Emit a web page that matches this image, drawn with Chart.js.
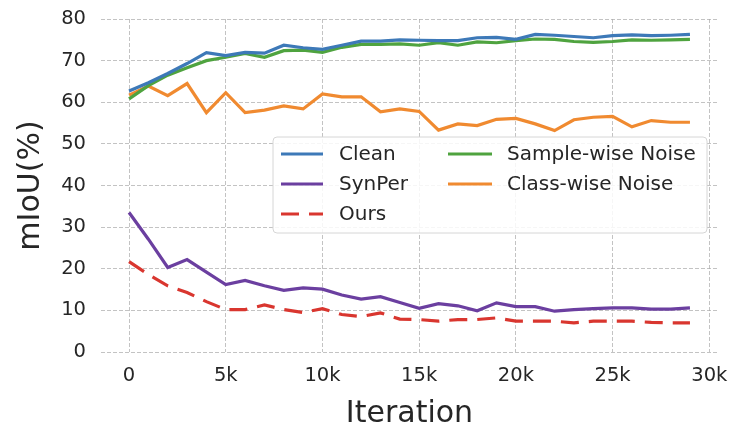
<!DOCTYPE html>
<html>
<head>
<meta charset="utf-8">
<script src="https://cdn.jsdelivr.net/npm/chart.js@4.4.1/dist/chart.umd.min.js"></script>
<style>
  html, body { margin: 0; padding: 0; background: #fff; }
  #wrap { width: 733px; height: 429px; }
</style>
</head>
<body>
<div id="wrap"><canvas id="miouChart"></canvas></div>
<script>
// iterations (x values)
const iterations = [0, 1000, 2000, 3000, 4000, 5000, 6000, 7000, 8000, 9000,
  10000, 11000, 12000, 13000, 14000, 15000, 16000, 17000, 18000, 19000,
  20000, 21000, 22000, 23000, 24000, 25000, 26000, 27000, 28000, 29000];

// mIoU values
const clean = [62.7, 64.7, 66.9, 69.3, 71.9, 71.2, 72.0, 71.8, 73.7, 73.1,
  72.7, 73.7, 74.7, 74.7, 75.0, 74.9, 74.8, 74.8, 75.5, 75.6,
  75.1, 76.3, 76.1, 75.8, 75.5, 76.0, 76.2, 76.0, 76.1, 76.3];
const synPer = [33.5, 27.1, 20.3, 22.2, 19.2, 16.2, 17.2, 15.9, 14.8, 15.4,
  15.1, 13.7, 12.7, 13.3, 11.9, 10.5, 11.6, 11.1, 9.9, 11.8,
  10.9, 10.9, 9.8, 10.2, 10.4, 10.6, 10.6, 10.3, 10.3, 10.6];
const ours = [21.7, 18.6, 15.9, 14.3, 12.1, 10.2, 10.2, 11.3, 10.2, 9.5,
  10.4, 9.0, 8.5, 9.4, 7.9, 7.8, 7.4, 7.8, 7.8, 8.2,
  7.4, 7.4, 7.4, 7.0, 7.4, 7.4, 7.4, 7.1, 7.0, 7.0];
const sampleWise = [60.8, 64.0, 66.5, 68.3, 70.0, 70.8, 71.7, 70.8, 72.4, 72.5,
  72.0, 73.2, 73.9, 73.9, 74.0, 73.7, 74.3, 73.7, 74.5, 74.3,
  74.8, 75.2, 75.1, 74.6, 74.4, 74.6, 75.0, 74.9, 75.0, 75.1];
const classWise = [61.7, 63.9, 61.6, 64.5, 57.5, 62.3, 57.5, 58.1, 59.1, 58.4,
  62.0, 61.3, 61.3, 57.7, 58.4, 57.8, 53.3, 54.8, 54.4, 55.9,
  56.1, 54.8, 53.2, 55.8, 56.4, 56.6, 54.1, 55.6, 55.2, 55.2];

// tick labels
const xTickValues = [0, 5000, 10000, 15000, 20000, 25000, 30000];
const xTickLabels = ['0', '5k', '10k', '15k', '20k', '25k', '30k'];

const FONT = "'DejaVu Sans', sans-serif";
const TEXT = '#262626';

function pts(values) {
  return values.map((v, i) => ({ x: iterations[i], y: v }));
}

function makeSet(label, values, color, dash) {
  return {
    label: label,
    data: pts(values),
    borderColor: color,
    backgroundColor: color,
    borderWidth: 3.2,
    borderDash: dash || [],
    borderCapStyle: 'butt',
    pointRadius: 0,
    tension: 0,
    fill: false
  };
}

// no extra padding from tick labels, the layout padding decides the plot area
function noPadding(scale) {
  scale.paddingTop = 0;
  scale.paddingBottom = 0;
  scale.paddingLeft = 0;
  scale.paddingRight = 0;
}

// legend like matplotlib with ncol=2 (column-wise filling)
const legendPlugin = {
  id: 'mplLegend',
  afterDraw(chart) {
    const ctx = chart.ctx;
    const sets = chart.data.datasets;
    const box = { x: 273, y: 137, w: 434, h: 96 };
    ctx.save();
    ctx.beginPath();
    ctx.roundRect(box.x, box.y, box.w, box.h, 4);
    ctx.fillStyle = 'rgba(255,255,255,0.85)';
    ctx.fill();
    ctx.lineWidth = 1;
    ctx.strokeStyle = '#d6d6d6';
    ctx.stroke();

    const cols = [
      { x0: 281, x1: 323, tx: 339, items: [0, 1, 2] },
      { x0: 448, x1: 492, tx: 507, items: [3, 4] }
    ];
    const rows = [154, 184, 214];
    ctx.font = '20px ' + FONT;
    ctx.textBaseline = 'middle';
    ctx.textAlign = 'left';
    cols.forEach(c => {
      c.items.forEach((idx, r) => {
        const ds = sets[idx];
        const y = rows[r];
        ctx.beginPath();
        ctx.setLineDash(ds.borderDash || []);
        ctx.lineWidth = ds.borderWidth;
        ctx.strokeStyle = ds.borderColor;
        ctx.lineCap = 'butt';
        ctx.moveTo(c.x0, y);
        ctx.lineTo(c.x1, y);
        ctx.stroke();
        ctx.setLineDash([]);
        ctx.fillStyle = TEXT;
        ctx.fillText(ds.label, c.tx, y + 1);
      });
    });
    ctx.restore();
  }
};

const config = {
  type: 'line',
  data: {
    datasets: [
      makeSet('Clean', clean, '#3d79b8'),
      makeSet('SynPer', synPer, '#6b3fa0'),
      makeSet('Ours', ours, '#d9362f', [18, 10]),
      makeSet('Sample-wise Noise', sampleWise, '#4fa33f'),
      makeSet('Class-wise Noise', classWise, '#f08a30')
    ]
  },
  options: {
    responsive: true,
    maintainAspectRatio: false,
    animation: false,
    layout: { padding: { top: 19, right: 15, left: 0, bottom: 0 } },
    plugins: {
      legend: { display: false },
      tooltip: { enabled: false }
    },
    scales: {
      x: {
        type: 'linear',
        min: -1450,
        max: 30450,
        afterBuildTicks: scale => {
          scale.ticks = xTickValues.map(v => ({ value: v }));
        },
        afterFit: scale => { scale.height = 77; noPadding(scale); },
        ticks: {
          autoSkip: false,
          maxRotation: 0,
          padding: 12,
          color: TEXT,
          font: { family: FONT, size: 19.5 },
          callback: (value, index) => xTickLabels[index]
        },
        grid: { color: 'rgba(170,170,170,0.7)', lineWidth: 1, drawTicks: false },
        border: { display: false, dash: [4, 2] },
        title: {
          display: true,
          text: 'Iteration',
          color: TEXT,
          font: { family: FONT, size: 30, lineHeight: 1 },
          padding: 0
        }
      },
      y: {
        min: 0,
        max: 80,
        afterFit: scale => { scale.width = 101; noPadding(scale); },
        ticks: {
          stepSize: 10,
          padding: 15,
          color: TEXT,
          font: { family: FONT, size: 19.5 }
        },
        grid: { color: 'rgba(170,170,170,0.7)', lineWidth: 1, drawTicks: false },
        border: { display: false, dash: [4, 2] },
        title: {
          display: true,
          text: 'mIoU(%)',
          color: TEXT,
          font: { family: FONT, size: 30, lineHeight: 1 },
          padding: { top: 16, bottom: 0 }
        }
      }
    }
  },
  plugins: [legendPlugin]
};

const miouChart = new Chart(document.getElementById('miouChart'), config);
</script>
</body>
</html>
